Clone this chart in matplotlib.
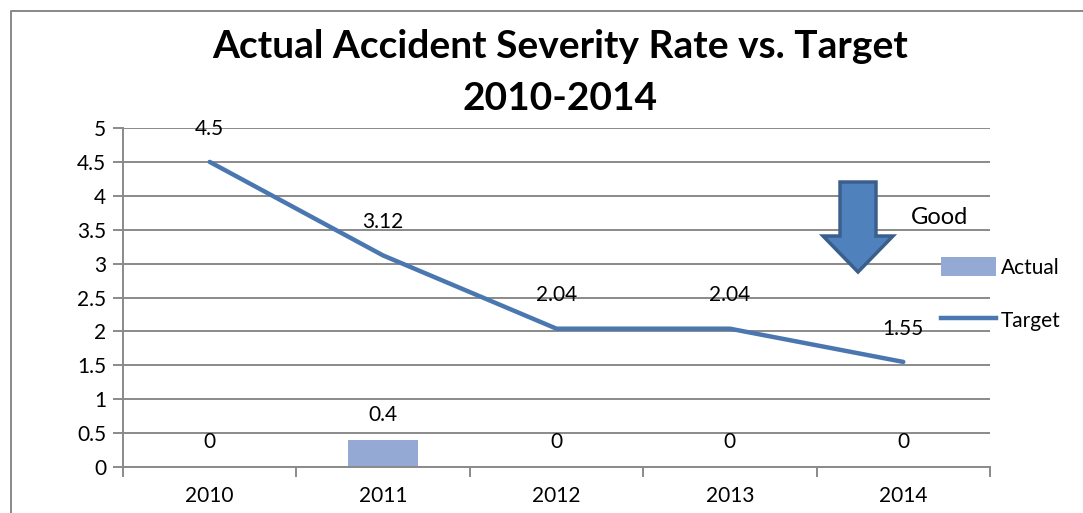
import matplotlib
matplotlib.use("Agg")
import matplotlib.pyplot as plt
from matplotlib.patches import FancyArrow, Patch
from matplotlib.lines import Line2D
import numpy as np

years = ["2010", "2011", "2012", "2013", "2014"]
actual = [0, 0.4, 0, 0, 0]
target = [4.5, 3.12, 2.04, 2.04, 1.55]
target_labels = ["4.5", "3.12", "2.04", "2.04", "1.55"]
actual_labels = ["0", "0.4", "0", "0", "0"]
yticks = [0, 0.5, 1, 1.5, 2, 2.5, 3, 3.5, 4, 4.5, 5]
ytick_labels = ["0", "0.5", "1", "1.5", "2", "2.5", "3", "3.5", "4", "4.5", "5"]

plt.rcParams['font.family'] = ['Lato', 'DejaVu Sans']

W, H = 1083, 513
fig = plt.figure(figsize=(W / 100, H / 100), dpi=100)
ax = fig.add_axes([123 / W, 1 - 467 / H, (990 - 123) / W, (467 - 128) / H])

x = np.arange(len(years))
bar_color = "#94a9d3"
line_color = "#4a77b0"
grid_color = "#8a8a8a"
fs = 15

ax.bar(x, actual, width=0.4, color=bar_color, zorder=2)
ax.plot(x, target, color=line_color, lw=3.2, zorder=3, solid_capstyle="round")

for xi, v, lab in zip(x, target, target_labels):
    ax.annotate(lab, (xi, v), xytext=(0, 24), textcoords="offset points",
                ha="center", va="center", fontsize=fs, zorder=4)
for xi, v, lab in zip(x, actual, actual_labels):
    ax.annotate(lab, (xi, v), xytext=(0, 18), textcoords="offset points",
                ha="center", va="center", fontsize=fs, zorder=4)

ax.set_xlim(-0.5, len(years) - 0.5)
ax.set_ylim(0, 5)
ax.set_yticks(yticks)
ax.set_yticklabels(ytick_labels, fontsize=fs)
ax.yaxis.grid(True, color=grid_color, lw=1.4, zorder=0)
ax.set_axisbelow(True)

ax.set_xticks(x)
ax.set_xticklabels(years, fontsize=fs)
ax.set_xticks(np.arange(-0.5, len(years)), minor=True)
ax.tick_params(axis="x", which="major", length=0, pad=14)
ax.tick_params(axis="x", which="minor", length=7, width=1.4, color=grid_color)
ax.tick_params(axis="y", length=7, width=1.4, color=grid_color, pad=5)

for s in ["top", "right"]:
    ax.spines[s].set_visible(False)
for s in ["left", "bottom"]:
    ax.spines[s].set_color(grid_color)
    ax.spines[s].set_linewidth(1.4)

# legend
handles = [Patch(facecolor=bar_color, edgecolor="none"),
           Line2D([], [], color=line_color, lw=3.2)]
fig.legend(handles, ["Actual", "Target"], loc="upper left",
           bbox_to_anchor=(933 / W, 1 - 249 / H),
           frameon=False, fontsize=fs, handlelength=2.6, handleheight=1.0,
           handletextpad=0.25, labelspacing=1.55, borderaxespad=0)

# arrow "Good"
arr = FancyArrow(858 / W, 1 - 182 / H, 0, -(272 - 182) / H, width=36 / W,
                 head_width=70 / W, head_length=36 / H, length_includes_head=True,
                 transform=fig.transFigure, facecolor="#4f81bd",
                 edgecolor="#3a5f8c", lw=2.5, zorder=5)
fig.patches.append(arr)
fig.text(940 / W, 1 - 218 / H, "Good", fontsize=17, ha="center", va="center")

# title
fig.text(560 / W, 1 - 46 / H, "Actual Accident Severity Rate vs. Target",
         fontsize=28, fontweight="bold", ha="center", va="center")
fig.text(560 / W, 1 - 98 / H, "2010-2014",
         fontsize=28, fontweight="bold", ha="center", va="center")

# chart border (left and top)
fig.add_artist(plt.Line2D([11 / W, 11 / W, 1.0], [0, 1 - 11 / H, 1 - 11 / H],
                          transform=fig.transFigure, color="#888888", lw=1.4))

fig.savefig("out.png", dpi=100)
